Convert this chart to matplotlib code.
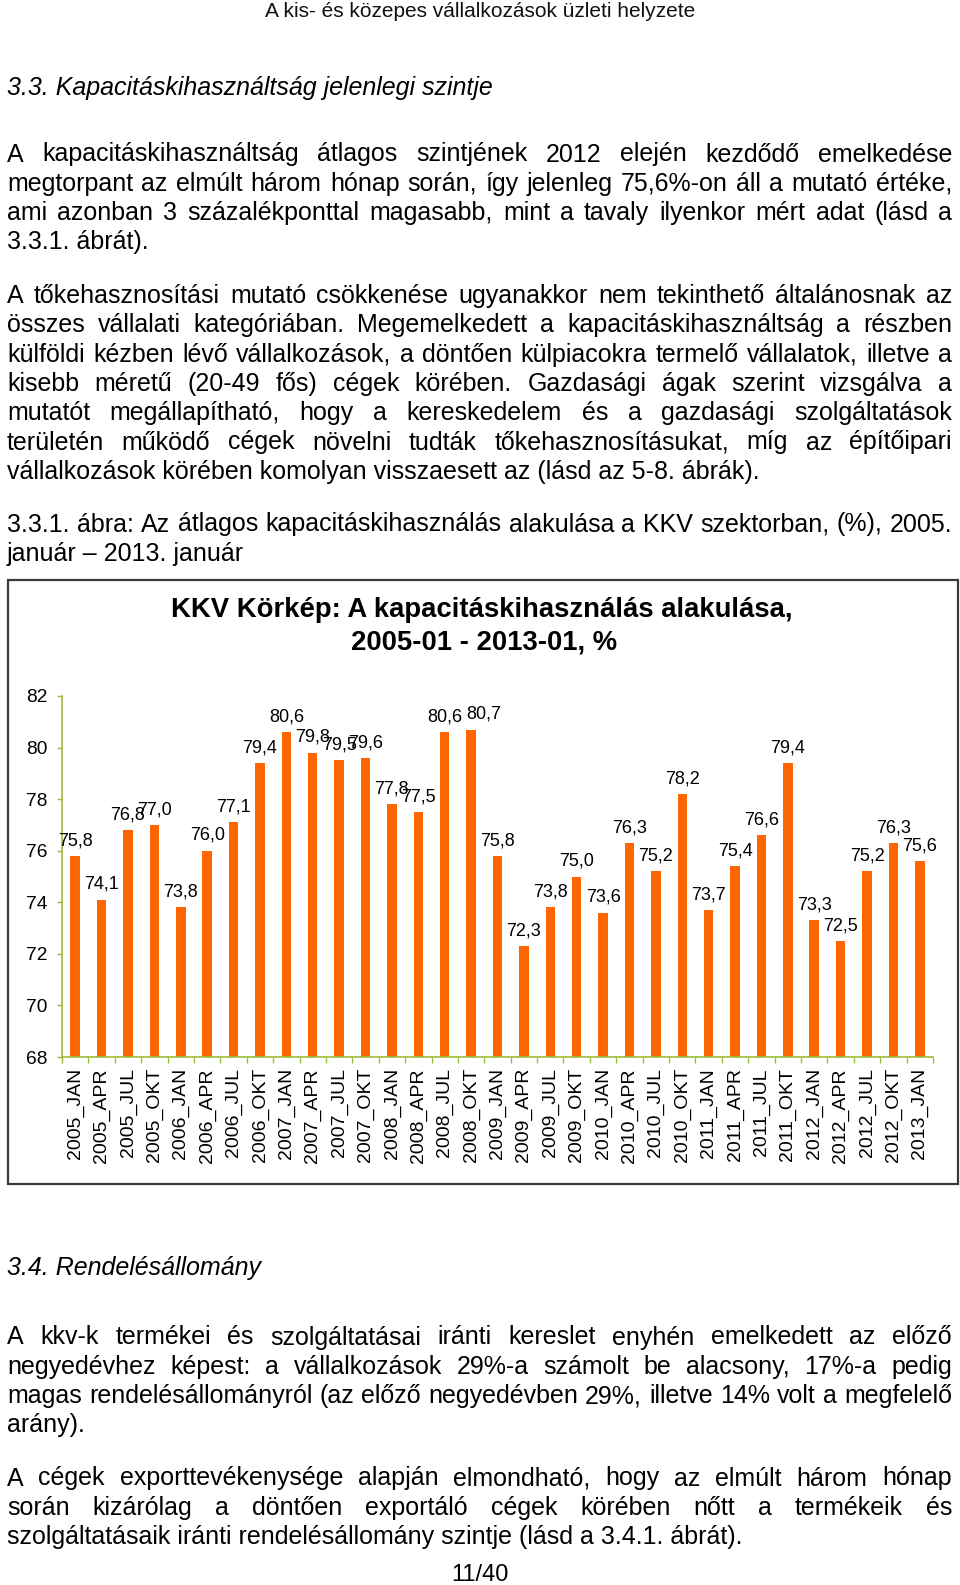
import matplotlib
matplotlib.use("Agg")
import matplotlib.pyplot as plt
from matplotlib.patches import Rectangle

plt.rcParams['font.family'] = ['Liberation Sans', 'DejaVu Sans']

# ---------------- data ----------------
categories = ["2005_JAN", "2005_APR", "2005_JUL", "2005_OKT",
              "2006_JAN", "2006_APR", "2006_JUL", "2006_OKT",
              "2007_JAN", "2007_APR", "2007_JUL", "2007_OKT",
              "2008_JAN", "2008_APR", "2008_JUL", "2008_OKT",
              "2009_JAN", "2009_APR", "2009_JUL", "2009_OKT",
              "2010_JAN", "2010_APR", "2010_JUL", "2010_OKT",
              "2011_JAN", "2011_APR", "2011_JUL", "2011_OKT",
              "2012_JAN", "2012_APR", "2012_JUL", "2012_OKT",
              "2013_JAN"]
values = [75.8, 74.1, 76.8, 77.0,
          73.8, 76.0, 77.1, 79.4,
          80.6, 79.8, 79.5, 79.6,
          77.8, 77.5, 80.6, 80.7,
          75.8, 72.3, 73.8, 75.0,
          73.6, 76.3, 75.2, 78.2,
          73.7, 75.4, 76.6, 79.4,
          73.3, 72.5, 75.2, 76.3,
          75.6]
y_ticks = [68, 70, 72, 74, 76, 78, 80, 82]

header = "A kis- és közepes vállalkozások üzleti helyzete"
heading1 = "3.3. Kapacitáskihasználtság jelenlegi szintje"
para1 = ["A kapacitáskihasználtság átlagos szintjének 2012 elején kezdődő emelkedése",
         "megtorpant az elmúlt három hónap során, így jelenleg 75,6%-on áll a mutató értéke,",
         "ami azonban 3 százalékponttal magasabb, mint a tavaly ilyenkor mért adat (lásd a",
         "3.3.1. ábrát)."]
para2 = ["A tőkehasznosítási mutató csökkenése ugyanakkor nem tekinthető általánosnak az",
         "összes vállalati kategóriában. Megemelkedett a kapacitáskihasználtság a részben",
         "külföldi kézben lévő vállalkozások, a döntően külpiacokra termelő vállalatok, illetve a",
         "kisebb méretű (20-49 fős) cégek körében. Gazdasági ágak szerint vizsgálva a",
         "mutatót megállapítható, hogy a kereskedelem és a gazdasági szolgáltatások",
         "területén működő cégek növelni tudták tőkehasznosításukat, míg az építőipari",
         "vállalkozások körében komolyan visszaesett az (lásd az 5-8. ábrák)."]
caption = ["3.3.1. ábra: Az átlagos kapacitáskihasználás alakulása a KKV szektorban, (%), 2005.",
           "január – 2013. január"]
chart_title = ["KKV Körkép: A kapacitáskihasználás alakulása,", "2005-01 - 2013-01, %"]
heading2 = "3.4. Rendelésállomány"
para3 = ["A kkv-k termékei és szolgáltatásai iránti kereslet enyhén emelkedett az előző",
         "negyedévhez képest: a vállalkozások 29%-a számolt be alacsony, 17%-a pedig",
         "magas rendelésállományról (az előző negyedévben 29%, illetve 14% volt a megfelelő",
         "arány)."]
para4 = ["A cégek exporttevékenysége alapján elmondható, hogy az elmúlt három hónap",
         "során kizárólag a döntően exportáló cégek körében nőtt a termékeik és",
         "szolgáltatásaik iránti rendelésállomány szintje (lásd a 3.4.1. ábrát)."]
footer = "11/40"

# ---------------- figure ----------------
W, H = 960, 1585
fig = plt.figure(figsize=(W / 100, H / 100), dpi=100)
fig.patch.set_facecolor("white")
renderer = fig.canvas.get_renderer()

BODY = 18
X0, X1 = 7, 952


def fx(x):
    return x / W


def fy(y):
    return 1 - y / H


def put_line(text, base, justify=True, x0=X0, x1=X1, **kw):
    kw.setdefault("fontsize", BODY)
    kw.setdefault("color", "black")
    if not justify:
        fig.text(fx(x0), fy(base), text, va="baseline", ha="left", **kw)
        return
    words = text.split(" ")
    objs = [fig.text(0, fy(base), w, va="baseline", ha="left", **kw) for w in words]
    widths = [o.get_window_extent(renderer).width for o in objs]
    gap = (x1 - x0 - sum(widths)) / max(len(words) - 1, 1)
    x = x0
    for o, w in zip(objs, widths):
        o.set_x(fx(x))
        x += w + gap


def put_para(lines, base0, step=29.3):
    for i, ln in enumerate(lines):
        put_line(ln, base0 + i * step, justify=(i < len(lines) - 1))


fig.text(fx(480), fy(17), header, ha="center", va="baseline", fontsize=15, color="#111111")
put_line(heading1, 95, justify=False, style="italic")
put_para(para1, 161.5)
put_para(para2, 303)
put_para(caption, 531.5)
put_line(heading2, 1275, justify=False, style="italic")
put_para(para3, 1344.5)
put_para(para4, 1485.5)
fig.text(fx(480), fy(1581), footer, ha="center", va="baseline", fontsize=17)

# chart frame
fig.patches.append(Rectangle((fx(8), fy(1184)), (958 - 8) / W, (1184 - 580) / H,
                             transform=fig.transFigure, fill=False,
                             edgecolor="#3a3a3a", linewidth=1.6))
fig.text(fx(482), fy(610), chart_title[0], ha="center", va="center",
         fontsize=19.8, fontweight="bold")
fig.text(fx(484), fy(642), chart_title[1], ha="center", va="center",
         fontsize=19.8, fontweight="bold")

# axes
left, right, top, bottom = 62, 933, 696, 1057
ax = fig.add_axes([fx(left), fy(bottom), (right - left) / W, (bottom - top) / H])
axis_green = "#9DBE3A"
x = list(range(len(categories)))
ax.bar(x, values, width=0.36, color="#FF6600", bottom=0)
ax.set_xlim(-0.5, len(categories) - 0.5)
ax.set_ylim(68, 82)
ax.set_yticks(y_ticks)
ax.set_yticklabels([str(v) for v in y_ticks], fontsize=13.8)
ax.set_xticks(x)
ax.set_xticklabels(categories, rotation=90, fontsize=14, va="top", ha="center")
ax.set_xticks([i - 0.5 for i in range(len(categories) + 1)], minor=True)
ax.tick_params(axis="x", which="major", length=0, pad=8)
ax.tick_params(axis="x", which="minor", length=4, width=1, color=axis_green, direction="out")
ax.tick_params(axis="y", which="major", length=3.5, width=1, color=axis_green, pad=7)
for s in ["top", "right"]:
    ax.spines[s].set_visible(False)
for s in ["left", "bottom"]:
    ax.spines[s].set_color(axis_green)
    ax.spines[s].set_linewidth(1.2)
ax.patch.set_alpha(0)

# Excel nudged a few labels sideways to avoid collisions
label_shift = {"2008_OKT": 9}
for cat, xi, v in zip(categories, x, values):
    ax.annotate(f"{v:.1f}".replace(".", ","), (xi, v),
                xytext=(label_shift.get(cat, 0), 11),
                textcoords="offset points", ha="center", va="center",
                fontsize=13, color="black")

fig.savefig("out.png", dpi=100, facecolor="white")
